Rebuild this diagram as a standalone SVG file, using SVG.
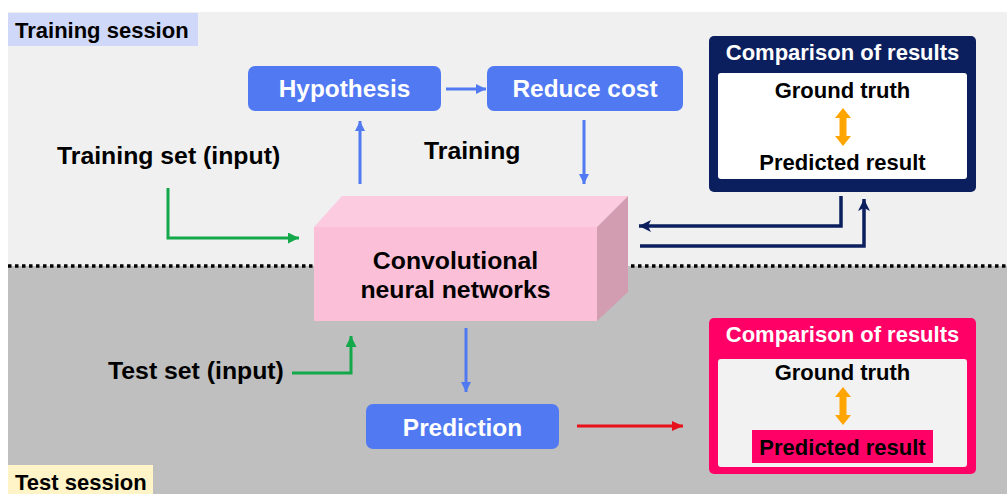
<svg xmlns="http://www.w3.org/2000/svg" width="1007" height="494" viewBox="0 0 1007 494">
<style>
text{font-family:"Liberation Sans",Arial,sans-serif;font-weight:bold;}
.lbl{font-size:24.8px;fill:#000;}
.btn{font-size:24.4px;fill:#fff;text-anchor:middle;}
.cmp{font-size:22px;text-anchor:middle;}
.sess{font-size:22px;fill:#000;}
.blue{stroke:#5079f2;stroke-width:3;fill:none;}
.navy{stroke:#0b1f5e;stroke-width:3.5;fill:none;}
.green{stroke:#13a84a;stroke-width:3;fill:none;}
.red{stroke:#e8111b;stroke-width:3;fill:none;}
</style>
<defs>
<marker id="ab" markerUnits="userSpaceOnUse" markerWidth="12" markerHeight="12" refX="10" refY="5" orient="auto"><path d="M0,0 L10,5 L0,10 Z" fill="#5079f2"/></marker>
<marker id="an" markerUnits="userSpaceOnUse" markerWidth="14" markerHeight="14" refX="12" refY="6" orient="auto"><path d="M0,0 L12,6 L0,12 L3,6 Z" fill="#0b1f5e"/></marker>
<marker id="ag" markerUnits="userSpaceOnUse" markerWidth="12" markerHeight="12" refX="11" refY="5.5" orient="auto"><path d="M0,0 L11,5.5 L0,11 Z" fill="#13a84a"/></marker>
<marker id="ar" markerUnits="userSpaceOnUse" markerWidth="12" markerHeight="12" refX="11" refY="5" orient="auto"><path d="M0,0 L11,5 L0,10 Z" fill="#e8111b"/></marker>
</defs>
<!-- backgrounds -->
<rect x="0" y="0" width="1007" height="494" fill="#ffffff"/>
<rect x="8" y="12" width="999" height="254" fill="#f0f0f0"/>
<rect x="8" y="266" width="999" height="228" fill="#bfbfbf"/>
<line x1="8" y1="266" x2="1007" y2="266" stroke="#000" stroke-width="3.5" stroke-dasharray="3.5 3.5"/>
<g id="training-session">
<rect x="8" y="13" width="190" height="33" fill="#cfd8f8"/>
<text class="sess" x="15" y="38">Training session</text>
</g>
<g id="test-session">
<rect x="8" y="465" width="145" height="29" fill="#fff4c8"/>
<text class="sess" x="15" y="490">Test session</text>
</g>
<g id="training-set">
<text class="lbl" x="57" y="164">Training set (input)</text>
</g>
<g id="training-label">
<text class="lbl" x="424" y="159">Training</text>
</g>
<g id="test-set">
<text class="lbl" x="108" y="379">Test set (input)</text>
</g>
<g id="hypothesis">
<rect x="248" y="66" width="193" height="45" rx="7" fill="#5079f2"/>
<text class="btn" x="344.5" y="97">Hypothesis</text>
</g>
<g id="reduce-cost">
<rect x="487" y="66" width="196" height="45" rx="7" fill="#5079f2"/>
<text class="btn" x="585" y="97">Reduce cost</text>
</g>
<g id="prediction">
<rect x="366" y="404" width="193" height="45" rx="7" fill="#5079f2"/>
<text class="btn" x="462.5" y="436">Prediction</text>
</g>
<g id="cnn">
<polygon points="314,227 342,196 628,196 597,227" fill="#fccbe0"/>
<polygon points="597,227 628,196 628,292 597,321" fill="#d29db1"/>
<rect x="314" y="227" width="283" height="94" fill="#fbbfd7"/>
<text class="lbl" x="455.5" y="269" text-anchor="middle">Convolutional</text>
<text class="lbl" x="455.5" y="298" text-anchor="middle">neural networks</text>
</g>
<g id="comparison-train">
<rect x="709" y="36" width="267" height="156" rx="5" fill="#0b1f5e"/>
<text class="cmp" x="842.5" y="60" fill="#fff">Comparison of results</text>
<rect x="718" y="73" width="249" height="106" rx="3" fill="#ffffff"/>
<text class="cmp" x="842.5" y="98" fill="#000">Ground truth</text>
<polygon points="843,108 851,118 846.5,118 846.5,136 851,136 843,146 835,136 839.5,136 839.5,118 835,118" fill="#ffa500"/>
<text class="cmp" x="842.5" y="170" fill="#000">Predicted result</text>
</g>
<g id="comparison-test">
<rect x="709" y="318" width="267" height="156" rx="5" fill="#ff0066"/>
<text class="cmp" x="842.5" y="342" fill="#fff">Comparison of results</text>
<rect x="718" y="359" width="249" height="108" rx="3" fill="#f2f2f2"/>
<text class="cmp" x="842.5" y="380" fill="#000">Ground truth</text>
<polygon points="843,387 851,397 846.5,397 846.5,415 851,415 843,425 835,415 839.5,415 839.5,397 835,397" fill="#ffa500"/>
<rect x="752" y="430" width="181" height="33" fill="#ff0066"/>
<text class="cmp" x="842.5" y="455" fill="#000">Predicted result</text>
</g>
<g id="connectors">
<line class="blue" x1="446" y1="89" x2="486" y2="89" marker-end="url(#ab)"/>
<line class="blue" x1="360" y1="184" x2="360" y2="121" marker-end="url(#ab)"/>
<line class="blue" x1="584" y1="120" x2="584" y2="184" marker-end="url(#ab)"/>
<line class="blue" x1="466" y1="328" x2="466" y2="392" marker-end="url(#ab)"/>
<polyline class="navy" points="841,196 841,226 639,226" marker-end="url(#an)"/>
<polyline class="navy" points="640,246 864,246 864,199" marker-end="url(#an)"/>
<polyline class="green" points="168,188 168,238 299,238" marker-end="url(#ag)"/>
<polyline class="green" points="292,373 351,373 351,336" marker-end="url(#ag)"/>
<line class="red" x1="577" y1="426" x2="683" y2="426" marker-end="url(#ar)"/>
</g>
</svg>
